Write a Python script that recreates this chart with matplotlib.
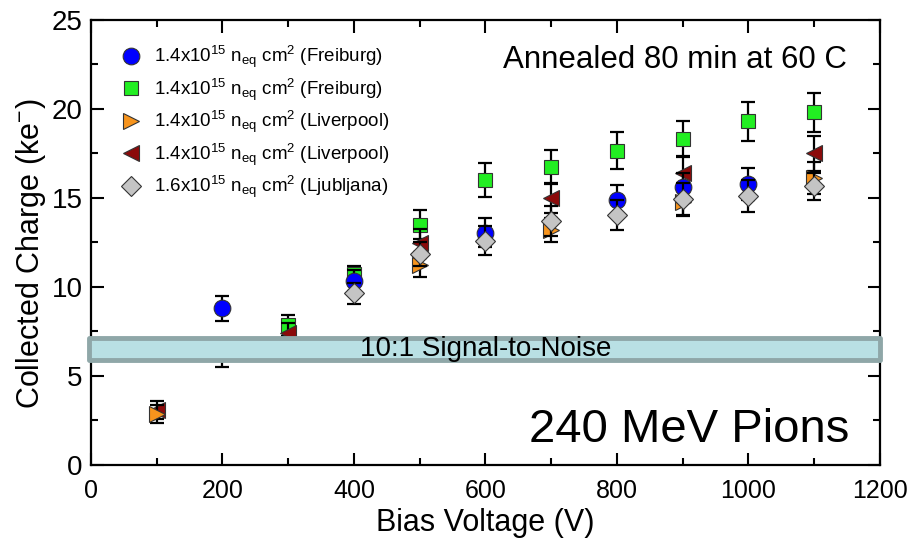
import matplotlib
matplotlib.use("Agg")
import matplotlib.pyplot as plt
from matplotlib.patches import Rectangle
from matplotlib.ticker import MultipleLocator

plt.rcParams['font.family'] = ['Liberation Sans', 'DejaVu Sans']
plt.rcParams['mathtext.fontset'] = 'custom'
plt.rcParams['mathtext.rm'] = 'Liberation Sans'
plt.rcParams['mathtext.it'] = 'Liberation Sans'

# data
blue_x = [200, 400, 600, 800, 900, 1000]
blue_y = [8.8, 10.35, 13.05, 14.9, 15.6, 15.8]
blue_err = [0.7, 0.6, 0.8, 0.8, 0.8, 0.9]

green_x = [200, 300, 400, 500, 600, 700, 800, 900, 1000, 1100]
green_y = [6.3, 7.85, 10.7, 13.5, 16.0, 16.75, 17.65, 18.3, 19.3, 19.8]
green_err = [0.8, 0.6, 0.5, 0.8, 0.95, 0.95, 1.05, 1.0, 1.1, 1.1]

orange_x = [100, 500, 700, 900, 1100]
orange_y = [2.85, 11.25, 13.2, 14.75, 16.1]
orange_err = [0.5, 0.7, 0.7, 0.75, 0.9]

darkred_x = [100, 300, 500, 700, 900, 1100]
darkred_y = [3.1, 7.4, 12.45, 15.0, 16.4, 17.5]
darkred_err = [0.5, 0.6, 0.8, 0.85, 0.95, 1.0]

gray_x = [400, 500, 600, 700, 800, 900, 1000, 1100]
gray_y = [9.65, 11.85, 12.6, 13.7, 14.05, 14.95, 15.1, 15.65]
gray_err = [0.6, 0.7, 0.8, 0.85, 0.85, 0.9, 0.9, 0.75]

labels = [r'1.4x10$^{15}$ n$_{eq}$ cm$^{2}$ (Freiburg)',
          r'1.4x10$^{15}$ n$_{eq}$ cm$^{2}$ (Freiburg)',
          r'1.4x10$^{15}$ n$_{eq}$ cm$^{2}$ (Liverpool)',
          r'1.4x10$^{15}$ n$_{eq}$ cm$^{2}$ (Liverpool)',
          r'1.6x10$^{15}$ n$_{eq}$ cm$^{2}$ (Ljubljana)']

fig = plt.figure(figsize=(9.07, 5.38), dpi=100)
ax = fig.add_axes([0.1003, 0.1357, 0.8697, 0.8273])

# series: (x, y, err, marker, color, size, label index, zorder)
series = [
    (green_x, green_y, green_err, 's', '#22ee22', 10, 1, 3),
    (darkred_x, darkred_y, darkred_err, '<', '#8b0a0a', 12, 3, 4),
    (orange_x, orange_y, orange_err, '>', '#f7941d', 12, 2, 4),
    (blue_x, blue_y, blue_err, 'o', '#0000ff', 12, 0, 5),
    (gray_x, gray_y, gray_err, 'D', '#c4c4c4', 10, 4, 6),
]

handles = [None] * 5
for x, y, err, m, c, s, li, z in series:
    ax.errorbar(x, y, yerr=err, fmt='none', ecolor='black', elinewidth=1.6,
                capsize=5, capthick=1.6, zorder=z)
    h, = ax.plot(x, y, linestyle='none', marker=m, markersize=s,
                 markerfacecolor=c, markeredgecolor='#333333',
                 markeredgewidth=0.8, zorder=z, label=labels[li])
    handles[li] = h

# 10:1 signal-to-noise band
band = Rectangle((-3, 5.9), 1204, 1.25, facecolor='#b9e0e4',
                 edgecolor='#8fa7a8', linewidth=3.5, joinstyle='round',
                 zorder=8, clip_on=False)
ax.add_patch(band)
ax.text(600, 6.5, '10:1 Signal-to-Noise', ha='center', va='center',
        fontsize=20, zorder=9)

ax.text(1150, 22.75, 'Annealed 80 min at 60 C', ha='right', va='center',
        fontsize=22.5)
ax.text(1153, 1.95, '240 MeV Pions', ha='right', va='center', fontsize=34)

leg = ax.legend(handles=handles, loc='upper left',
                bbox_to_anchor=(0.016, 0.975), frameon=False, fontsize=13.5,
                labelspacing=0.33, handletextpad=0.5, handlelength=1.5,
                borderaxespad=0.3)

ax.set_xlim(0, 1200)
ax.set_ylim(0, 25)
ax.xaxis.set_major_locator(MultipleLocator(200))
ax.xaxis.set_minor_locator(MultipleLocator(100))
ax.yaxis.set_major_locator(MultipleLocator(5))
ax.yaxis.set_minor_locator(MultipleLocator(2.5))
ax.tick_params(which='both', direction='in', top=True, right=True, width=1.5)
ax.tick_params(which='major', length=9)
ax.tick_params(which='minor', length=5)
ax.tick_params(axis='y', labelsize=20, pad=6)
ax.tick_params(axis='x', labelsize=18, pad=10)
for sp in ax.spines.values():
    sp.set_linewidth(1.6)

ax.set_xlabel('Bias Voltage (V)', fontsize=22, labelpad=4)
ax.set_ylabel(r'Collected Charge (ke$^{-}$)', fontsize=22)
ax.yaxis.set_label_coords(-0.055, 0.474)

fig.savefig('out.png', dpi=100)
